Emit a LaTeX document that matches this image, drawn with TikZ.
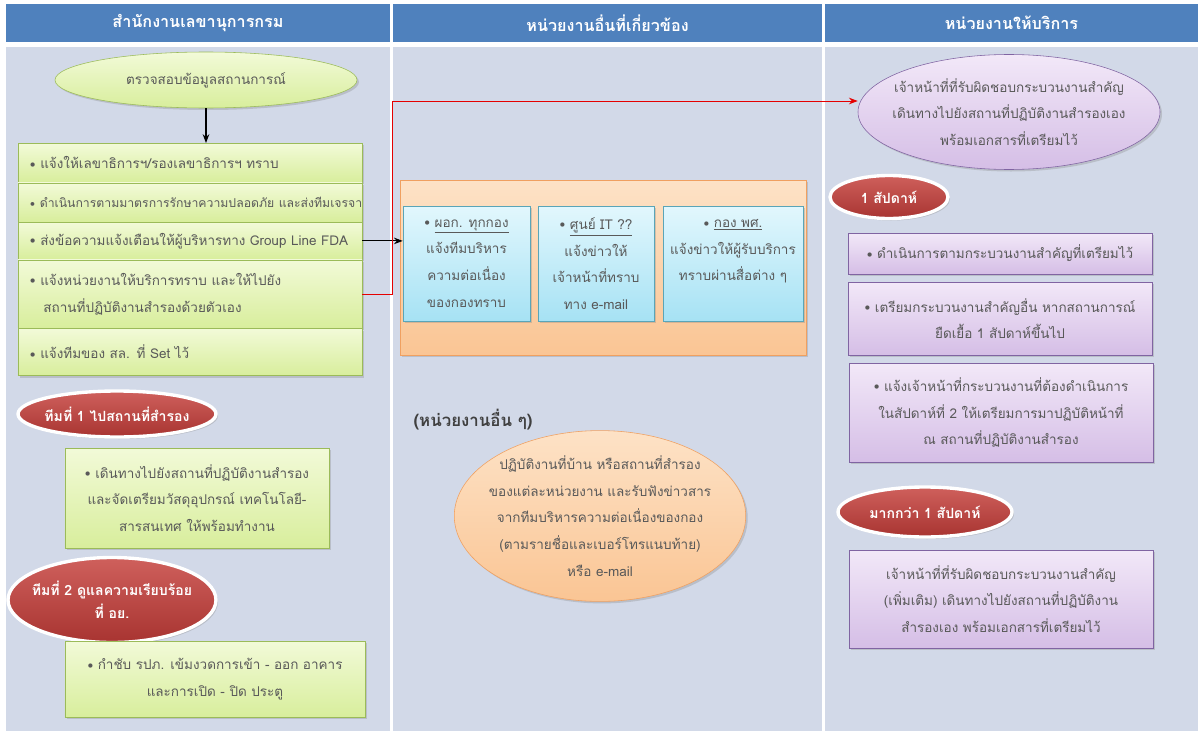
\documentclass[tikz,border=0pt]{standalone}
\usepackage{fontspec}
\setmainfont[Script=Thai]{Loma}
\usepackage{tikz}
\usetikzlibrary{positioning,arrows.meta,shapes.geometric,shadows}
\usepackage{xcolor}
\definecolor{hdblue}{HTML}{4F81BD}
\definecolor{lanebg}{HTML}{D2D9E8}
\definecolor{txtgray}{HTML}{595959}
\definecolor{grnline}{HTML}{9BBB59}
\definecolor{grntop}{HTML}{F2FAD8}
\definecolor{grnbot}{HTML}{D8EE9C}
\definecolor{redtop}{HTML}{CF605C}
\definecolor{redbot}{HTML}{A83431}
\definecolor{orgline}{HTML}{F0A060}
\definecolor{orgtop}{HTML}{FDE2C6}
\definecolor{orgbot}{HTML}{FAC594}
\definecolor{bluline}{HTML}{5AA5B8}
\definecolor{blutop}{HTML}{E2F7FD}
\definecolor{blubot}{HTML}{A6E2F4}
\definecolor{purline}{HTML}{8064A2}
\definecolor{purtop}{HTML}{F2E8F8}
\definecolor{purbot}{HTML}{D5BEE6}
\newcommand{\bul}{\raisebox{0.2ex}{$\scriptstyle\bullet$}\ }

\begin{document}
\begin{tikzpicture}[x=0.25mm, y=-0.25mm,
    head/.style={fill=hdblue, text=white, font=\fontsize{11.5}{14}\selectfont\bfseries, minimum height=9.5mm, inner sep=0pt},
    body/.style={font=\fontsize{9.6}{19}\selectfont, text=txtgray, align=center},
    shd/.style={drop shadow={opacity=0.3, shadow xshift=0.5mm, shadow yshift=-0.5mm}},
    rowbox/.style={body, draw=grnline, top color=grntop, bottom color=grnbot, align=left, text width=8cm, inner xsep=3mm, inner ysep=0pt, shd},
    gbox/.style={body, draw=grnline, top color=grntop, bottom color=grnbot, shd},
    team/.style={ellipse, draw=white, line width=2.4pt, top color=redtop, bottom color=redbot, text=white, font=\fontsize{10}{16}\selectfont\bfseries, align=center, inner xsep=-1mm, inner ysep=0pt, shd},
    bbox/.style={body, draw=bluline, top color=blutop, bottom color=blubot, minimum height=28.75mm, inner sep=2pt, shd},
    pbox/.style={body, draw=purline, top color=purtop, bottom color=purbot, minimum width=7.6cm, shd},
    arr/.style={-{Stealth[length=2.2mm]}, thick}]
  \useasboundingbox (0,0) rectangle (1198,731);
  \fill[white] (0,0) rectangle (1198,731);
  % lanes
  \fill[lanebg] (6,47) rectangle (390,731);
  \fill[lanebg] (393,47) rectangle (822,731);
  \fill[lanebg] (825,47) rectangle (1198,731);
  \node[head, minimum width=9.6cm] (h1) at (198,23) {สำนักงานเลขานุการกรม};
  \node[head, minimum width=10.725cm] (h2) at (607.5,23) {หน่วยงานอื่นที่เกี่ยวข้อง};
  \node[head, minimum width=9.325cm] (h3) at (1011.5,23) {หน่วยงานให้บริการ};
  % สำนักงานเลขานุการกรม
  \node[ellipse, gbox, minimum width=7.55cm, minimum height=1.4cm] (chk) at (206,80) {ตรวจสอบข้อมูลสถานการณ์};
  \node[rowbox, minimum height=9.75mm, anchor=north] (r1) at (190,143) {\bul แจ้งให้เลขาธิการฯ/รองเลขาธิการฯ ทราบ};
  \node[rowbox, minimum height=9.75mm, below=0pt of r1] (r2) {\fontsize{8.7}{19}\selectfont\mbox{\bul ดำเนินการตามมาตรการรักษาความปลอดภัย และส่งทีมเจรจา}};
  \node[rowbox, minimum height=9.25mm, below=0pt of r2] (r3) {\mbox{\bul ส่งข้อความแจ้งเตือนให้ผู้บริหารทาง Group Line FDA}};
  \node[rowbox, minimum height=17mm, below=0pt of r3] (r4) {\bul แจ้งหน่วยงานให้บริการทราบ และให้ไปยัง\\\hspace*{1em}สถานที่ปฏิบัติงานสำรองด้วยตัวเอง};
  \node[rowbox, minimum height=11.75mm, below=0pt of r4] (r5) {\bul แจ้งทีมของ สล. ที่ Set ไว้};
  \node[team, minimum width=4.95cm, minimum height=1.15cm] (t1) at (117,414) {ทีมที่ 1 ไปสถานที่สำรอง};
  \node[gbox, minimum width=6.6cm, minimum height=2.5cm] (g2) at (197,498) {\bul เดินทางไปยังสถานที่ปฏิบัติงานสำรอง\\และจัดเตรียมวัสดุอุปกรณ์ เทคโนโลยี-\\สารสนเทศ ให้พร้อมทำงาน};
  \node[team, minimum width=5.2cm, minimum height=2.125cm, inner xsep=-3mm] (t2) at (112,600) {ทีมที่ 2 ดูแลความเรียบร้อย\\ที่ อย.};
  \node[gbox, minimum width=7.5cm, minimum height=1.9cm] (g3) at (215,679) {\bul กำชับ รปภ. เข้มงวดการเข้า - ออก อาคาร\\และการเปิด - ปิด ประตู};
  % หน่วยงานอื่นที่เกี่ยวข้อง
  \node[draw=orgline, top color=orgtop, bottom color=orgbot, minimum width=10.15cm, minimum height=4.375cm, shd] (ob) at (603,267.5) {};
  \node[bbox, minimum width=3.175cm] (b1) at (466.5,263.5) {\bul\underline{ผอก. ทุกกอง}\\แจ้งทีมบริหาร\\ความต่อเนื่อง\\ของกองทราบ};
  \node[bbox, minimum width=2.9cm] (b2) at (596,263.5) {\bul\underline{ศูนย์ IT ??}\\แจ้งข่าวให้\\เจ้าหน้าที่ทราบ\\ทาง e-mail};
  \node[bbox, minimum width=3.5cm] (b3) at (733,263.5) {\bul\underline{กอง พศ.}\\แจ้งข่าวให้ผู้รับบริการ\\ทราบผ่านสื่อต่าง ๆ\\\mbox{}};
  \node[font=\fontsize{12}{14}\selectfont\bfseries, text=black!75] (oth) at (473,420) {(หน่วยงานอื่น ๆ)};
  \node[ellipse, body, draw=orgline, top color=orgtop, bottom color=orgbot, minimum width=7.1cm, minimum height=4.075cm, inner xsep=-2mm, inner ysep=0pt, shd] (home) at (600,516) {ปฏิบัติงานที่บ้าน หรือสถานที่สำรอง\\ของแต่ละหน่วยงาน และรับฟังข่าวสาร\\จากทีมบริหารความต่อเนื่องของกอง\\(ตามรายชื่อและเบอร์โทรแนบท้าย)\\หรือ e-mail};
  % หน่วยงานให้บริการ
  \node[ellipse, body, draw=purline, top color=purtop, bottom color=purbot, minimum width=7.55cm, minimum height=2.875cm, inner xsep=-3mm, inner ysep=-1mm, shd] (pe) at (1009,112) {เจ้าหน้าที่ที่รับผิดชอบกระบวนงานสำคัญ\\เดินทางไปยังสถานที่ปฏิบัติงานสำรองเอง\\พร้อมเอกสารที่เตรียมไว้};
  \node[team, minimum width=2.95cm, minimum height=1.075cm] (wk1) at (889,197) {1 สัปดาห์};
  \node[pbox, minimum height=1.025cm] (p1) at (1000,253.5) {\bul ดำเนินการตามกระบวนงานสำคัญที่เตรียมไว้};
  \node[pbox, minimum height=1.825cm] (p2) at (1000,318.5) {\bul เตรียมกระบวนงานสำคัญอื่น หากสถานการณ์\\ยืดเยื้อ 1 สัปดาห์ขึ้นไป};
  \node[pbox, minimum height=2.475cm] (p3) at (1001,412.5) {\bul แจ้งเจ้าหน้าที่กระบวนงานที่ต้องดำเนินการ\\ในสัปดาห์ที่ 2 ให้เตรียมการมาปฏิบัติหน้าที่\\ณ สถานที่ปฏิบัติงานสำรอง};
  \node[team, minimum width=4.35cm, minimum height=1.25cm] (wk2) at (925,512) {มากกว่า 1 สัปดาห์};
  \node[pbox, minimum height=2.45cm] (p4) at (1001,599) {เจ้าหน้าที่ที่รับผิดชอบกระบวนงานสำคัญ\\(เพิ่มเติม) เดินทางไปยังสถานที่ปฏิบัติงาน\\สำรองเอง พร้อมเอกสารที่เตรียมไว้};
  % connectors
  \coordinate (rk) at (392,101);
  \draw[arr] (chk.south) -- (chk.south |- r1.north);
  \draw[arr] (r3.east) -- (r3.east -| b1.west);
  \draw[arr, red!90!black, semithick] (r4.east) -| (rk) -- (rk -| pe.west);
\end{tikzpicture}
\end{document}
